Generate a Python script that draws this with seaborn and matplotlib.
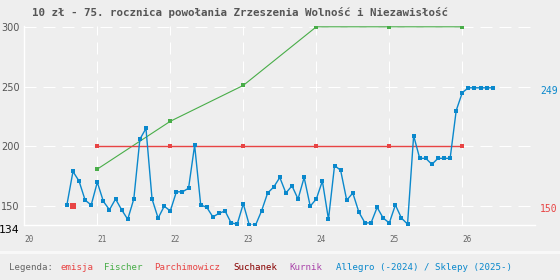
import pandas as pd
import seaborn as sns
import matplotlib.pyplot as plt
from matplotlib.patches import Rectangle

# Chart text
title = '10 zł - 75. rocznica powołania Zrzeszenia Wolność i Niezawisłość'
legend_labels = ['Legenda:', 'emisja', 'Fischer', 'Parchimowicz', 'Suchanek', 'Kurnik',
                 'Allegro (-2024) / Sklepy (2025-)']

# Allegro (-2024) / Sklepy (2025-) - monthly prices from 2020-08
allegro_start = '2020-08-01'
allegro_values = [151, 179, 171, 155, 151, 170, 154, 147, 156, 147, 139, 156,
                  206, 215, 156, 140, 150, 146, 162, 162, 165, 201, 151, 149,
                  141, 144, 146, 136, 135, 152, 134, 134, 146, 161, 166, 174,
                  161, 167, 156, 174, 150, 156, 171, 139, 184, 180, 155, 161,
                  145, 136, 136, 149, 140, 136, 151, 140, 135, 209, 190, 190,
                  185, 190, 190, 190, 230, 245, 249, 249, 249, 249, 249]

# catalogue prices, yearly (January)
catalog_dates = ['2021-01-01', '2022-01-01', '2023-01-01', '2024-01-01', '2025-01-01', '2026-01-01']
fischer_values = [181, 221, 251, 300, 300, 300]
parchimowicz_values = [200, 200, 200, 200, 200, 200]

# issue price
emisja_date = ['2020-09-01']
emisja_values = [150]

years = [2020, 2021, 2022, 2023, 2024, 2025, 2026]
y_ticks = [134, 150, 200, 250, 300]

C_RED = '#e84444'
C_GREEN = '#48ad48'
C_BLUE = '#0a88cc'
legend_colors = ['#666666', C_RED, C_GREEN, C_RED, '#880000', '#aa44aa', C_BLUE]


def to_year(dates):
    d = pd.to_datetime(pd.Series(dates))
    return d.dt.year + (d.dt.month - 1) / 12


allegro_df = pd.DataFrame({
    'x': to_year(pd.date_range(allegro_start, periods=len(allegro_values), freq='MS')),
    'y': allegro_values})
fischer_df = pd.DataFrame({'x': to_year(catalog_dates), 'y': fischer_values})
parch_df = pd.DataFrame({'x': to_year(catalog_dates), 'y': parchimowicz_values})
emisja_df = pd.DataFrame({'x': to_year(emisja_date), 'y': emisja_values})

BG = '#eeeeee'
sns.set_style('white', rc={'axes.facecolor': BG, 'figure.facecolor': BG})

W, H = 560, 280
fig = plt.figure(figsize=(W / 100, H / 100), dpi=100)
ax = fig.add_axes([24.3 / W, 54.7 / H, 511 / W, 199.2 / H])

# light separator above the legend strip
fig.add_artist(Rectangle((0, 1 - 254 / H), 1, 3 / H, transform=fig.transFigure,
                         facecolor='#f8f8f8', edgecolor='none'))

sns.lineplot(data=fischer_df, x='x', y='y', ax=ax, color=C_GREEN, lw=0.8,
             marker='s', markersize=2.4, markeredgewidth=0, zorder=3)
sns.lineplot(data=parch_df, x='x', y='y', ax=ax, color=C_RED, lw=1.0,
             marker='s', markersize=2.6, markeredgewidth=0, zorder=3)
sns.lineplot(data=allegro_df, x='x', y='y', ax=ax, color=C_BLUE, lw=1.0,
             marker='s', markersize=3.0, markeredgewidth=0, zorder=4)
sns.scatterplot(data=emisja_df, x='x', y='y', ax=ax, color=C_RED, marker='s',
                s=20, linewidth=0, zorder=5)

ax.set_xlim(2020, 2027)
ax.set_ylim(134, 300.6)
ax.set_xlabel('')
ax.set_ylabel('')

ax.set_xticks(years)
ax.set_xticklabels([str(y)[2:] for y in years], fontfamily='DejaVu Sans Mono',
                   fontsize=5.6, color='#666666')
for lab in ax.get_xticklabels():
    lab.set_horizontalalignment('left')
ax.set_yticks(y_ticks)
ax.set_yticklabels([str(v) for v in y_ticks], fontsize=7, color='#555555')
first = ax.get_yticklabels()[0]
first.set_color('black')
first.set_fontsize(7.8)
first.set_verticalalignment('top')
ax.tick_params(axis='x', length=0, pad=7)
ax.tick_params(axis='y', length=0, pad=3.5)

ax.grid(True, color='white', lw=0.72, linestyle=(0, (12, 7)), zorder=1)
ax.set_axisbelow(True)
for side in ['top', 'right']:
    ax.spines[side].set_visible(False)
for side in ['left', 'bottom']:
    ax.spines[side].set_color('white')
    ax.spines[side].set_linewidth(1.0)

# last values on the right
for val, col in [(allegro_values[-1], C_BLUE), (emisja_values[-1], C_RED)]:
    ax.annotate(str(val), xy=(1, val), xycoords=ax.get_yaxis_transform(),
                xytext=(5, -3), textcoords='offset pixels', va='center', ha='left',
                fontfamily='DejaVu Sans Mono', fontsize=7, color=col)

fig.text(32 / W, 1 - 12.5 / H, title, fontfamily='DejaVu Sans Mono', fontweight='bold',
         fontsize=7.8, color='#555555', va='center', ha='left')

legend_x = [9, 60.7, 104, 153.7, 233.3, 289.3, 335.7]
for lx, lab, col in zip(legend_x, legend_labels, legend_colors):
    fig.text(lx / W, 1 - 267 / H, lab, fontfamily='DejaVu Sans Mono', fontsize=6.6,
             color=col, va='center', ha='left')

plt.savefig('out.png', dpi=100, facecolor=BG)
